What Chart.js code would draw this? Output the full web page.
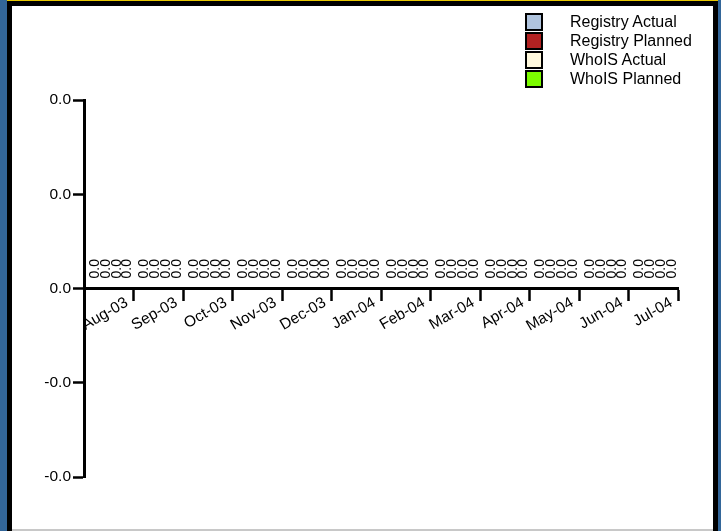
<!DOCTYPE html>
<html lang="en">
<head>
    <meta charset="UTF-8">
    <title>Registry / WhoIS</title>
    <script src="https://cdn.jsdelivr.net/npm/chart.js"></script>
    <style>
        body {
            margin: 0;
            width: 721px;
            height: 531px;
            overflow: hidden;
            position: relative;
            background: #336699;
            font-family: "Liberation Sans", Arial, sans-serif;
        }
        #frame {
            position: absolute;
            left: 7px;
            top: 0;
            width: 711px;
            height: 531px;
            background: #000;
            border-top: 1px solid #e8c800;
            box-sizing: border-box;
        }
        #panel {
            position: absolute;
            left: 12px;
            top: 6px;
            width: 701px;
            height: 523px;
            background: #fff;
            border-bottom: 2px solid #c8c8c8;
        }
        #legend {
            position: absolute;
            left: 525px;
            top: 12px;
            font-size: 16px;
            color: #000;
        }
        .item {
            display: flex;
            align-items: center;
            height: 19px;
        }
        .box {
            width: 14px;
            height: 14px;
            border: 2px solid #000;
            margin-right: 27px;
        }
        #chart {
            position: absolute;
            left: 0;
            top: 0;
        }
    </style>
</head>
<body>
    <div id="frame"></div>
    <div id="panel"></div>
    <canvas id="chart" width="721" height="531"></canvas>
    <div id="legend"></div>

    <script>
        const months = ['Aug-03', 'Sep-03', 'Oct-03', 'Nov-03', 'Dec-03', 'Jan-04',
                        'Feb-04', 'Mar-04', 'Apr-04', 'May-04', 'Jun-04', 'Jul-04'];
        const seriesNames = ['Registry Actual', 'Registry Planned', 'WhoIS Actual', 'WhoIS Planned'];
        const seriesColors = ['#b0c4de', '#b22222', '#fff8dc', '#7cfc00'];

        const registryActual  = [0, 0, 0, 0, 0, 0, 0, 0, 0, 0, 0, 0];
        const registryPlanned = [0, 0, 0, 0, 0, 0, 0, 0, 0, 0, 0, 0];
        const whoisActual     = [0, 0, 0, 0, 0, 0, 0, 0, 0, 0, 0, 0];
        const whoisPlanned    = [0, 0, 0, 0, 0, 0, 0, 0, 0, 0, 0, 0];

        // y axis: five ticks, all of them print as 0.0 / -0.0
        const yMin = -0.02;
        const yMax = 0.02;
        const yStep = 0.01;

        const font = '"Liberation Sans", Arial, sans-serif';

        // legend in html, from the same names and colours
        const legend = document.getElementById('legend');
        seriesNames.forEach((name, i) => {
            const row = document.createElement('div');
            row.className = 'item';
            row.innerHTML = '<span class="box" style="background:' + seriesColors[i] + '"></span>' + name;
            legend.appendChild(row);
        });

        // vertical value labels above every bar
        const valueLabels = {
            id: 'valueLabels',
            afterDatasetsDraw(chart) {
                const ctx = chart.ctx;
                ctx.save();
                ctx.font = '14px ' + font;
                ctx.fillStyle = '#000';
                ctx.textAlign = 'left';
                ctx.textBaseline = 'middle';
                chart.data.datasets.forEach((ds, i) => {
                    chart.getDatasetMeta(i).data.forEach((bar, j) => {
                        ctx.save();
                        ctx.translate(bar.x + 2.5, bar.y - 10);
                        ctx.rotate(-Math.PI / 2);
                        ctx.fillText(ds.data[j].toFixed(1), 0, 0);
                        ctx.restore();
                    });
                });
                ctx.restore();
            }
        };

        const seriesData = [registryActual, registryPlanned, whoisActual, whoisPlanned];

        new Chart(document.getElementById('chart'), {
            type: 'bar',
            data: {
                labels: months,
                datasets: seriesData.map((d, i) => ({
                    label: seriesNames[i],
                    data: d,
                    backgroundColor: seriesColors[i],
                    borderColor: '#000',
                    borderWidth: 0,
                    categoryPercentage: 0.88,
                    barPercentage: 1.0
                }))
            },
            options: {
                responsive: false,
                animation: false,
                layout: {
                    padding: { left: 0, right: 43, top: 100, bottom: 54 }
                },
                plugins: {
                    legend: { display: false },
                    tooltip: { enabled: false }
                },
                scales: {
                    x: {
                        position: { y: 0 },
                        offset: true,
                        grid: {
                            offset: true,
                            drawOnChartArea: false,
                            tickLength: 11,
                            tickColor: '#000',
                            tickWidth: 2.5
                        },
                        border: { color: '#000', width: 3 },
                        ticks: {
                            color: '#000',
                            font: { size: 15.5, family: font },
                            minRotation: 30,
                            maxRotation: 30,
                            autoSkip: false,
                            labelOffset: 18,
                            padding: -6
                        },
                        afterFit(scale) {
                            scale.height = 0;
                            scale.paddingLeft = 0;
                            scale.paddingRight = 0;
                        }
                    },
                    y: {
                        min: yMin,
                        max: yMax,
                        ticks: {
                            stepSize: yStep,
                            color: '#000',
                            font: { size: 15.5, family: font },
                            padding: 2,
                            callback: v => v.toFixed(1)
                        },
                        grid: {
                            drawOnChartArea: false,
                            tickLength: 11,
                            tickColor: '#000',
                            tickWidth: 2.5
                        },
                        border: { color: '#000', width: 3 },
                        afterFit(scale) {
                            scale.width = 84;
                        }
                    }
                }
            },
            plugins: [valueLabels]
        });
    </script>
</body>
</html>
